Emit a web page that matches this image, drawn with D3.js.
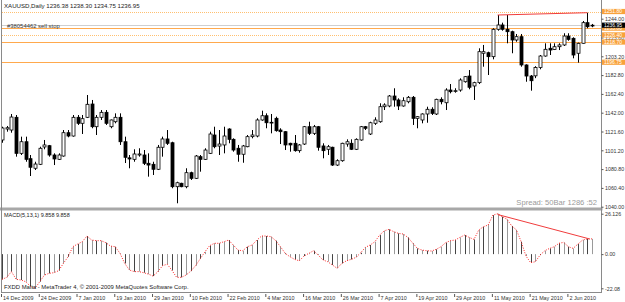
<!DOCTYPE html>
<html>
<head>
<meta charset="utf-8">
<script src="https://cdn.jsdelivr.net/npm/d3@7/dist/d3.min.js"></script>
<style>
body { margin: 0; background: #fff; }
svg { display: block; font-family: "Liberation Sans", Arial, sans-serif; }
</style>
</head>
<body>
<svg id="chart" width="625" height="302"></svg>
<script>
// XAUUSD daily bars, 14 Dec 2009 .. 9 Jun 2010
var opens = [1112.4,1124.3,1123.2,1137.0,1097.9,1110.5,1092.1,1081.7,1086.0,1104.8,
  1106.2,1096.1,1091.4,1095.0,1120.3,1116.7,1137.0,1130.5,1137.0,1151.4,
  1126.8,1137.0,1142.4,1126.8,1132.2,1137.0,1110.5,1093.0,1091.4,1096.1,
  1096.1,1087.1,1086.0,1080.6,1104.5,1113.5,1109.4,1061.7,1065.4,1061.7,
  1076.9,1070.8,1094.3,1091.4,1097.9,1117.8,1105.8,1107.0,1124.3,1113.1,
  1103.4,1096.9,1105.1,1116.0,1116.7,1134.1,1138.7,1131.1,1135.9,1123.2,
  1121.4,1108.8,1108.8,1100.8,1108.0,1126.8,1119.6,1126.8,1105.9,1102.3,
  1104.5,1085.2,1089.9,1108.0,1108.8,1102.3,1112.4,1126.8,1118.9,1130.5,
  1132.2,1148.5,1149.3,1160.1,1155.8,1149.3,1153.9,1158.7,1135.9,1134.1,
  1140.6,1145.7,1140.6,1156.5,1152.8,1166.6,1165.3,1166.6,1175.6,1181.8,
  1171.0,1174.6,1206.5,1207.1,1202.8,1232.5,1237.2,1232.5,1229.9,1220.9,
  1224.5,1193.8,1181.8,1182.0,1191.0,1203.5,1211.9,1210.5,1213.6,1215.5,
  1225.2,1222.7,1206.5,1217.3,1239.7,1236.38];
var highs = [1126.8,1127.6,1140.6,1139.5,1116.0,1116.0,1096.1,1088.8,1105.1,1112.4,
  1107.0,1097.9,1097.9,1123.2,1123.2,1139.5,1139.5,1139.5,1161.2,1155.8,
  1139.5,1144.9,1144.9,1134.6,1141.3,1141.3,1116.0,1096.1,1102.3,1103.4,
  1101.5,1097.9,1088.8,1107.0,1116.0,1123.2,1110.5,1067.1,1066.0,1081.7,
  1078.0,1096.1,1096.1,1103.4,1121.4,1126.8,1123.2,1126.8,1125.1,1114.2,
  1107.0,1107.0,1117.8,1123.2,1135.9,1144.2,1141.3,1140.6,1137.7,1125.1,
  1122.0,1109.4,1117.8,1108.0,1127.6,1132.2,1128.7,1127.6,1108.8,1107.0,
  1105.1,1091.4,1109.4,1113.1,1113.1,1114.2,1127.6,1127.6,1132.2,1137.0,
  1152.2,1152.2,1161.2,1168.5,1157.6,1158.7,1160.1,1160.1,1138.4,1141.3,
  1148.5,1147.9,1157.2,1158.7,1168.5,1173.1,1168.5,1179.3,1181.8,1188.3,
  1175.6,1211.9,1215.5,1208.2,1233.6,1248.0,1239.7,1248.0,1231.0,1227.4,
  1227.4,1194.5,1182.9,1192.5,1204.6,1217.3,1217.3,1217.3,1217.3,1228.2,
  1228.2,1223.8,1218.0,1241.5,1250.5,1238.30];
var lows = [1109.4,1121.4,1120.3,1094.3,1096.1,1088.8,1073.3,1079.8,1085.2,1102.3,
  1094.3,1085.2,1090.7,1094.3,1115.3,1116.0,1128.7,1118.9,1136.2,1125.1,
  1117.8,1134.1,1128.7,1125.1,1130.5,1107.0,1087.4,1081.7,1088.8,1094.3,
  1085.2,1072.6,1074.4,1079.8,1094.3,1107.0,1060.0,1043.7,1061.1,1060.0,
  1069.0,1070.1,1078.0,1090.7,1097.2,1103.4,1096.1,1097.9,1108.8,1099.7,
  1088.8,1087.7,1104.5,1114.2,1115.3,1133.3,1125.1,1119.6,1121.4,1108.0,
  1101.5,1099.7,1099.7,1098.6,1107.0,1117.8,1117.8,1100.8,1092.5,1096.1,
  1084.2,1084.2,1088.8,1105.1,1101.5,1101.5,1111.6,1123.2,1117.8,1128.7,
  1131.1,1144.9,1147.9,1148.5,1144.9,1148.5,1152.2,1128.7,1125.1,1130.5,
  1131.1,1139.5,1139.5,1151.1,1144.9,1163.0,1163.7,1164.8,1174.6,1167.4,
  1155.8,1173.1,1191.9,1182.9,1199.9,1231.0,1231.0,1217.3,1206.5,1219.0,
  1191.9,1175.6,1165.9,1179.5,1189.1,1202.8,1204.6,1210.0,1210.0,1214.4,
  1220.1,1201.0,1196.3,1217.0,1233.6,1234.75];
var closes = [1125.4,1125.7,1137.3,1097.9,1110.5,1091.4,1082.8,1086.3,1103.4,1107.0,
  1096.1,1091.8,1096.1,1120.3,1116.7,1137.0,1130.5,1135.5,1151.1,1126.8,
  1137.0,1142.4,1130.5,1134.1,1137.0,1110.5,1093.6,1091.8,1097.2,1097.2,
  1087.1,1085.2,1080.6,1104.5,1113.5,1108.8,1061.7,1066.0,1061.7,1076.9,
  1070.8,1095.0,1091.4,1101.5,1118.9,1105.1,1108.0,1116.7,1113.1,1101.5,
  1096.9,1105.9,1116.0,1117.8,1134.1,1138.7,1131.1,1131.6,1122.5,1121.4,
  1107.0,1107.0,1100.8,1107.0,1126.8,1119.6,1126.8,1104.5,1100.8,1105.1,
  1085.2,1089.9,1108.8,1110.5,1102.3,1113.1,1126.8,1125.1,1131.1,1134.1,
  1148.5,1150.4,1160.1,1155.8,1149.3,1155.0,1158.7,1135.9,1137.7,1140.6,
  1145.7,1141.3,1156.5,1153.9,1166.6,1164.8,1165.9,1177.5,1181.1,1169.6,
  1174.6,1208.2,1208.2,1202.8,1232.5,1237.2,1232.5,1229.9,1220.9,1224.5,
  1193.8,1181.8,1176.7,1191.0,1203.5,1210.8,1210.0,1213.6,1215.5,1225.2,
  1221.6,1204.6,1217.3,1239.7,1235.3,1236.95];

// MACD(5,13,1) main values; the signal (SMA 1) is the same series
var macd = [-16.3,-15.0,-11.3,-16.3,-16.7,-17.8,-20.7,-22.08,-17.8,-13.5,
  -12.4,-12.0,-10.7,-6.0,-1.7,4.8,6.5,8.0,11.7,9.1,
  8.7,8.7,7.4,5.2,4.8,0.5,-6.0,-10.3,-11.3,-11.3,
  -12.0,-12.9,-14.2,-11.5,-7.5,-6.5,-10.5,-15.0,-15.0,-13.5,
  -11.0,-7.5,-3.0,1.5,5.5,7.0,7.0,8.0,9.1,5.9,
  2.6,2.2,4.8,5.9,9.1,11.7,11.7,11.3,8.7,4.8,
  0.5,-1.7,-3.4,-4.3,-1.2,0.5,2.2,-0.6,-3.8,-4.9,
  -7.0,-9.2,-6.0,-4.3,-3.4,-2.1,0.9,4.4,5.9,8.0,
  12.3,15.1,16.0,14.5,13.4,13.0,10.8,7.2,3.7,2.6,
  2.2,2.0,3.1,4.8,7.4,8.7,9.1,10.8,12.3,10.8,
  9.5,15.6,17.7,18.8,25.2,26.126,24.2,22.5,18.2,15.6,
  8.0,-1.2,-5.5,-4.9,-0.6,2.2,3.7,4.8,7.0,7.6,
  4.8,3.7,6.5,9.1,9.8,9.858];

var dateLabels = ["14 Dec 2009","24 Dec 2009","7 Jan 2010","19 Jan 2010","29 Jan 2010",
  "10 Feb 2010","22 Feb 2010","4 Mar 2010","16 Mar 2010","26 Mar 2010","7 Apr 2010",
  "19 Apr 2010","29 Apr 2010","11 May 2010","21 May 2010","2 Jun 2010"];
var dateTickBars = [0,8,16,24,32,40,48,56,64,72,80,88,96,104,112,120];
var priceTicks = [1040,1060.4,1080.8,1101.2,1121.6,1142.0,1162.4,1182.8,1203.2,1223.6,1244.0];
var macdTicks = [26.126,0,-22.08];
var levels = [1251.80,1233.80,1226.40,1218.70,1196.75];
var bid = 1236.95;
var priceTrend = [[105,1248.0],[124,1250.5]];
var macdTrend = [[105,25.6],[124.5,9.8]];

var svg = d3.select("#chart");
var plotRight = 601.5;
var n = closes.length;

var x = d3.scaleLinear().domain([0, 125]).range([2, 592]);
var y = d3.scaleLinear().domain([1040, 1244]).range([206.7, 18.7]);
var ym = d3.scaleLinear().domain([-22.08, 26.126]).range([288.3, 213.7]);

svg.append("defs").append("clipPath").attr("id","mainclip")
  .append("rect").attr("x",2).attr("y",0).attr("width",plotRight-2).attr("height",207.5);
svg.select("defs").append("clipPath").attr("id","macdclip")
  .append("rect").attr("x",2).attr("y",211).attr("width",plotRight-2).attr("height",81);

var main = svg.append("g").attr("clip-path","url(#mainclip)");

// level lines
var dotted = [true,false,true,false,false];
main.selectAll("line.level").data(levels).enter().append("line")
  .attr("class","level")
  .attr("x1",2).attr("x2",plotRight)
  .attr("y1",function(d){ return Math.round(y(d))+0.5; })
  .attr("y2",function(d){ return Math.round(y(d))+0.5; })
  .attr("stroke",function(d,i){ return dotted[i] ? "#ffc070" : "#ffa94d"; })
  .attr("stroke-dasharray",function(d,i){ return dotted[i] ? "1,1" : null; });

// bid line
main.append("line").attr("x1",2).attr("x2",plotRight)
  .attr("y1",Math.round(y(bid))+0.5).attr("y2",Math.round(y(bid))+0.5)
  .attr("stroke","#cfcfcf");

main.append("text").attr("x",7).attr("y",Math.round(y(bid))+2.5)
  .style("font-size","5.9px").attr("fill","#333").text("#38054462 sell stop");

// candles
var idx = d3.range(n);
main.selectAll("line.wick").data(idx).enter().append("line")
  .attr("class","wick")
  .attr("x1",function(i){ return Math.round(x(i))+0.5; })
  .attr("x2",function(i){ return Math.round(x(i))+0.5; })
  .attr("y1",function(i){ return y(highs[i]); })
  .attr("y2",function(i){ return y(lows[i]); })
  .attr("stroke","#000");

main.selectAll("rect.body").data(idx).enter().append("rect")
  .attr("class","body")
  .attr("x",function(i){ return Math.round(x(i))-1; })
  .attr("width",3)
  .attr("y",function(i){ return y(Math.max(opens[i],closes[i])); })
  .attr("height",function(i){ return Math.max(0.8, Math.abs(y(opens[i])-y(closes[i]))); })
  .attr("fill",function(i){ return closes[i] >= opens[i] ? "#fff" : "#000"; })
  .attr("stroke","#000").attr("stroke-width",0.8);

main.append("line")
  .attr("x1",x(priceTrend[0][0])).attr("y1",y(priceTrend[0][1]))
  .attr("x2",x(priceTrend[1][0])).attr("y2",y(priceTrend[1][1]))
  .attr("stroke","#f03c3c").attr("stroke-width",1);

// texts in main window
svg.append("text").attr("x",4).attr("y",8).style("font-size","6.1px").attr("fill","#222")
  .text("XAUUSD,Daily  1236.38 1238.30 1234.75 1236.95");
svg.append("text").attr("x",597).attr("y",205).attr("text-anchor","end")
  .style("font-size","7.6px").attr("fill","#9a9a9a").text("Spread: 50Bar  1286 :52");

// MACD window
var sub = svg.append("g").attr("clip-path","url(#macdclip)");
sub.selectAll("line.hist").data(idx).enter().append("line")
  .attr("class","hist")
  .attr("x1",function(i){ return Math.round(x(i))+0.5; })
  .attr("x2",function(i){ return Math.round(x(i))+0.5; })
  .attr("y1",ym(0))
  .attr("y2",function(i){ return ym(macd[i]); })
  .attr("stroke",function(i){ return i % 2 ? "#9a9a9a" : "#444"; });

sub.append("path").datum(idx)
  .attr("d", d3.line().x(function(i){ return x(i); }).y(function(i){ return ym(macd[i]); }))
  .attr("fill","none").attr("stroke","#ff2020").attr("stroke-dasharray","1,1.5");

sub.append("line")
  .attr("x1",x(macdTrend[0][0])).attr("y1",ym(macdTrend[0][1]))
  .attr("x2",x(macdTrend[1][0])).attr("y2",ym(macdTrend[1][1]))
  .attr("stroke","#f03c3c");

svg.append("text").attr("x",4).attr("y",217).style("font-size","5.5px").attr("fill","#222")
  .text("MACD(5,13,1) 9.858 9.858");
svg.append("text").attr("x",4).attr("y",289).style("font-size","5.9px").attr("fill","#222")
  .text("FXDD Malta - MetaTrader 4, \u00a9 2001-2009 MetaQuotes Software Corp.");

// frames
svg.append("rect").attr("x",0).attr("y",207.5).attr("width",plotRight+1).attr("height",3).attr("fill","#a8a8a8");
svg.append("line").attr("x1",1.5).attr("x2",1.5).attr("y1",0).attr("y2",293).attr("stroke","#8a8a8a");
svg.append("line").attr("x1",plotRight).attr("x2",plotRight).attr("y1",0).attr("y2",293).attr("stroke","#8a8a8a");
svg.append("line").attr("x1",1).attr("x2",plotRight).attr("y1",292.5).attr("y2",292.5).attr("stroke","#8a8a8a");

// right price axis
var pAxis = d3.axisRight(y).tickValues(priceTicks).tickSize(2).tickPadding(1.5)
  .tickFormat(d3.format(".2f"));
var pg = svg.append("g").attr("transform","translate("+plotRight+",0)").call(pAxis);
var mAxis = d3.axisRight(ym).tickValues(macdTicks).tickSize(2).tickPadding(1.5)
  .tickFormat(function(d){ return d === 0 ? "0.00" : String(d); });
var mg = svg.append("g").attr("transform","translate("+plotRight+",0)").call(mAxis);
[pg, mg].forEach(function(g){
  g.select(".domain").remove();
  g.selectAll("line").attr("stroke","#555");
  g.selectAll("text").style("font-size","5.3px").attr("fill","#333");
  g.attr("font-family",null).attr("font-size",null);
});

// level price labels
var lg = svg.append("g");
levels.forEach(function(v){
  var cy = y(v);
  lg.append("rect").attr("x",602).attr("y",cy-2.6).attr("width",23).attr("height",5.2).attr("fill","#f9a23b");
  lg.append("text").attr("x",604).attr("y",cy+1.8).style("font-size","5px").attr("fill","#fff").text(v.toFixed(2));
});
lg.append("rect").attr("x",602).attr("y",y(bid)-2.6).attr("width",23).attr("height",5.2).attr("fill","#000");
lg.append("text").attr("x",604).attr("y",y(bid)+1.8).style("font-size","5px").attr("fill","#fff").text(bid.toFixed(2));

// date axis
var dAxis = d3.axisBottom(x).tickValues(dateTickBars).tickSize(0)
  .tickFormat(function(d,i){ return dateLabels[i]; });
var dg = svg.append("g").attr("transform","translate(0,293)").call(dAxis);
dg.select(".domain").remove();
dg.selectAll("text").attr("text-anchor","start").attr("dy",null).attr("y",7)
  .attr("x",0.5).style("font-size","5.4px").attr("fill","#333");
dg.attr("font-family",null).attr("font-size",null);
dg.selectAll(".tick").append("line").attr("x1",-1).attr("x2",-1).attr("y1",1).attr("y2",4).attr("stroke","#555");
</script>
</body>
</html>
